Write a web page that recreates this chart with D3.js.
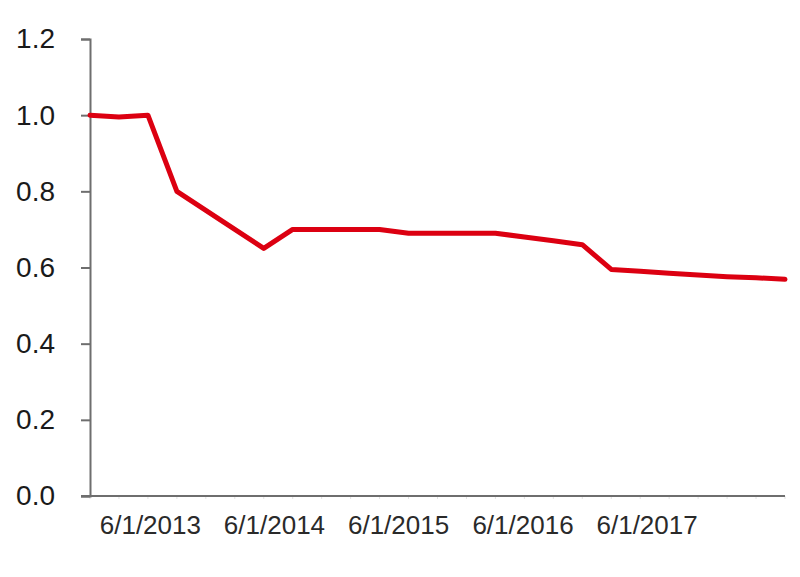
<!DOCTYPE html>
<html>
<head>
<meta charset="utf-8">
<script src="https://cdn.jsdelivr.net/npm/d3@7"></script>
<style>
  html, body { margin: 0; padding: 0; background: #fff; }
  svg { display: block; }
</style>
</head>
<body>
<svg id="chart" width="800" height="577"></svg>
<script>
// ---- data ----
const periods = d3.range(25); // sequential observation index
const values = [1.00, 0.995, 1.00, 0.80, 0.75, 0.70, 0.65, 0.70, 0.70, 0.70, 0.70,
                0.69, 0.69, 0.69, 0.69, 0.68, 0.67, 0.66, 0.595, 0.59, 0.585, 0.58,
                0.576, 0.573, 0.569];
const yTicks = [0, 0.2, 0.4, 0.6, 0.8, 1.0, 1.2];
const xTickLabels = ["6/1/2013", "6/1/2014", "6/1/2015", "6/1/2016", "6/1/2017"];
const xTickDates = xTickLabels.map(s => d3.timeParse("%m/%d/%Y")(s));
const dateDomain = [new Date(2012, 11, 7), new Date(2018, 6, 13)];

// ---- layout ----
const svg = d3.select("#chart");
const plotLeft = 90, plotRight = 785, plotTop = 39, plotBottom = 496;

const x = d3.scaleLinear().domain([0, periods.length - 1]).range([plotLeft, plotRight]);
const xTime = d3.scaleTime().domain(dateDomain).range([plotLeft, plotRight]);
const y = d3.scaleLinear().domain([0, 1.2]).range([plotBottom, plotTop]);

const axisColor = "#6e6e6e";

// faint minor ticks along x axis
svg.append("g")
  .selectAll("line").data(periods).join("line")
  .attr("x1", d => x(d)).attr("x2", d => x(d))
  .attr("y1", plotBottom).attr("y2", plotBottom + 3)
  .attr("stroke", "#e2e2e2").attr("stroke-width", 1);

// y axis
const yAxis = svg.append("g")
  .attr("transform", `translate(${plotLeft},0)`)
  .call(d3.axisLeft(y).tickValues(yTicks).tickSize(9).tickPadding(26).tickFormat(d3.format(".1f")));
yAxis.select(".domain").attr("stroke", axisColor).attr("stroke-width", 2);
yAxis.selectAll(".tick line").attr("stroke", axisColor).attr("stroke-width", 2);
yAxis.selectAll(".tick text")
  .attr("fill", "#1a1a1a")
  .style("font-family", "'Liberation Sans', Arial, sans-serif")
  .style("font-size", "28px");

// x axis baseline (extends to meet the y tick)
svg.append("line")
  .attr("x1", plotLeft - 9).attr("x2", plotRight)
  .attr("y1", plotBottom).attr("y2", plotBottom)
  .attr("stroke", axisColor).attr("stroke-width", 2);

// x labels
const xAxis = svg.append("g")
  .attr("transform", `translate(0,${plotBottom})`)
  .call(d3.axisBottom(xTime).tickValues(xTickDates).tickSize(0).tickPadding(20)
        .tickFormat((d, i) => xTickLabels[i]));
xAxis.select(".domain").remove();
xAxis.selectAll(".tick text")
  .attr("fill", "#2a2a2a")
  .style("font-family", "'Liberation Sans', Arial, sans-serif")
  .style("font-size", "26px");

// line
const line = d3.line().x((d, i) => x(periods[i])).y(d => y(d));
svg.append("path")
  .datum(values)
  .attr("d", line)
  .attr("fill", "none")
  .attr("stroke", "#dc0011")
  .attr("stroke-width", 5)
  .attr("stroke-linejoin", "round")
  .attr("stroke-linecap", "round");
</script>
</body>
</html>
